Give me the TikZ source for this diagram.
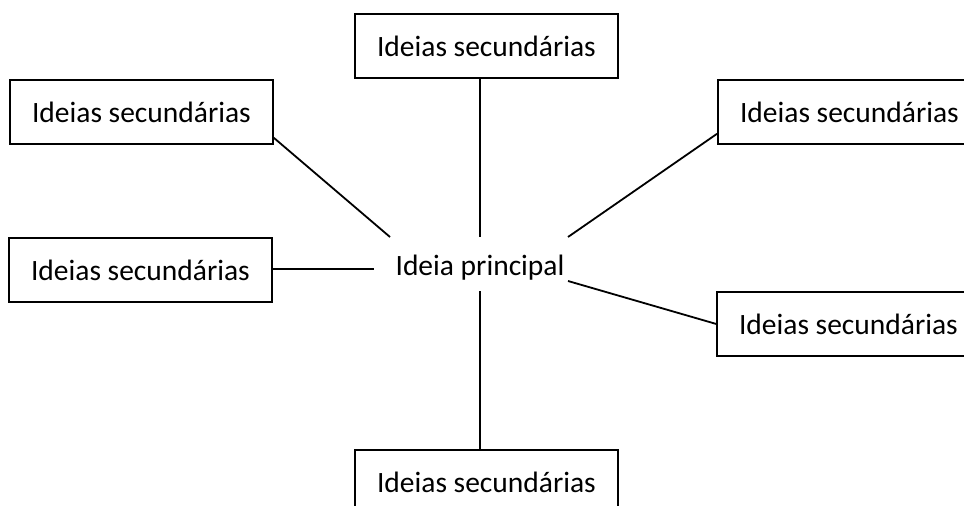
\documentclass[tikz,border=0pt]{standalone}
\usepackage{fontspec}
\setmainfont{Carlito}
\usetikzlibrary{calc}
\begin{document}
\begin{tikzpicture}[x=1pt,y=-1pt,
  box/.style={draw, line width=1.8pt, minimum width=263pt, minimum height=64pt, inner sep=0pt, font=\fontsize{29.5}{34}\selectfont, anchor=north west},
  conn/.style={line width=1.8pt},
  plain/.style={inner sep=0pt, font=\fontsize{29.5}{34}\selectfont}]
\useasboundingbox (0,0) rectangle (964,506);
\clip (0,0) rectangle (964,506);
\node[box] (top) at (354,13) {Ideias secundárias};
\node[box] (lt) at (9,79) {Ideias secundárias};
\node[box] (rt) at (717,79) {Ideias secundárias};
\node[box] (lm) at (8,237) {Ideias secundárias};
\node[box] (rb) at (716,291) {Ideias secundárias};
\node[box] (bot) at (354,449) {Ideias secundárias};
\node[plain] (main) at (480,268) {Ideia principal};
\coordinate (cT) at (480,237);
\coordinate (cB) at (480,291);
\coordinate (cL) at (374,269);
\coordinate (cLT) at (390,237);
\coordinate (cRT) at (568,237);
\coordinate (cRB) at (568,281);
\draw[conn] (top.south -| cT) -- (cT);
\draw[conn] (bot.north -| cB) -- (cB);
\draw[conn] (cL -| lm.east) -- (cL);
\draw[conn] ($(lt.south east)+(0,-7)$) -- (cLT);
\draw[conn] ($(rt.south west)+(0,-11)$) -- (cRT);
\draw[conn] (rb.west) -- (cRB);
\end{tikzpicture}
\end{document}
